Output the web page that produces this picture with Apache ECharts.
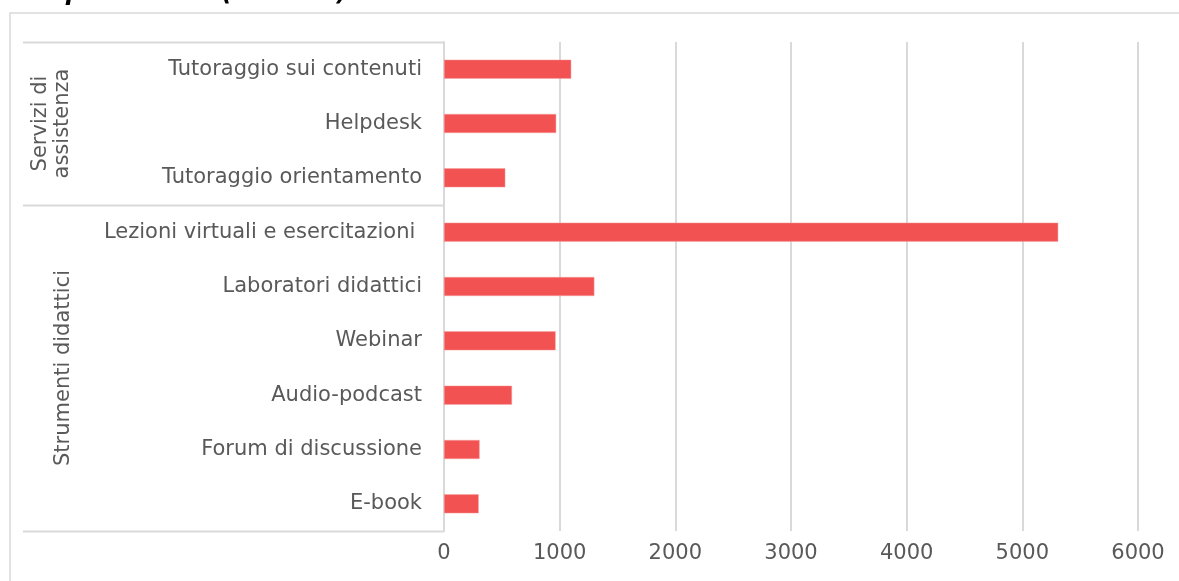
<!DOCTYPE html>
<html>
<head>
<meta charset="utf-8">
<script src="https://cdn.jsdelivr.net/npm/echarts@6/dist/echarts.min.js"></script>
<style>
html,body{margin:0;padding:0;background:#fff;}
#c{width:1179px;height:581px;}
</style>
</head>
<body>
<div id="c"></div>
<script>
const titleText = 'complementari (numero)';
const categories = ['Tutoraggio sui contenuti','Helpdesk','Tutoraggio orientamento','Lezioni virtuali e esercitazioni ','Laboratori didattici','Webinar','Audio-podcast','Forum di discussione','E-book'];
const values = [1100, 970, 530, 5310, 1300, 965, 588, 308, 300];
const groupNames = ['Servizi di\nassistenza', 'Strumenti didattici'];
const groupSizes = [3, 6];
const xTicks = [0, 1000, 2000, 3000, 4000, 5000, 6000];

const FONT = 'DejaVu Sans, Verdana, sans-serif';
const FS = 21;
const chart = echarts.init(document.getElementById('c'), null, {renderer:'canvas'});
const gridLeft = 444, gridTop = 42, gridRight = 1179 - 1138, gridBottom = 581 - 531;

chart.setOption({
  animation:false,
  backgroundColor:'#fff',
  grid:{left:gridLeft, top:gridTop, right:gridRight, bottom:gridBottom, containLabel:false},
  xAxis:{
    type:'value', min:xTicks[0], max:xTicks[xTicks.length-1], interval:1000,
    axisLine:{show:false}, axisTick:{show:false},
    splitLine:{show:true, lineStyle:{color:'#d9d9d9', width:2}},
    axisLabel:{color:'#595959', fontFamily:FONT, fontSize:FS, margin:12, formatter:v => String(v)}
  },
  yAxis:{
    type:'category', data:categories, inverse:true,
    axisLine:{show:true, lineStyle:{color:'#d9d9d9', width:2}},
    axisTick:{show:false},
    axisLabel:{color:'#595959', fontFamily:FONT, fontSize:FS, margin:22}
  },
  series:[{
    type:'bar', data:values, barWidth:'35%',
    itemStyle:{color:'#f25252', borderColor:'#f6a0a0', borderWidth:0.5}
  }]
});

const graphics = [];
graphics.push({type:'rect', shape:{x:10, y:13, width:1200, height:600}, style:{fill:'none', stroke:'#d9d9d9', lineWidth:1.5}, z:-1});
graphics.push({type:'text', x:10, y:6, style:{text:titleText, font:'italic bold 24px ' + FONT, fill:'#000', align:'left', verticalAlign:'bottom'}});
const step = (chart.convertToPixel({yAxisIndex:0}, categories[1]) - chart.convertToPixel({yAxisIndex:0}, categories[0]));
let idx = 0;
const bounds = [chart.convertToPixel({yAxisIndex:0}, categories[0]) - step/2];
groupSizes.forEach((n, gi) => {
  const y0 = chart.convertToPixel({yAxisIndex:0}, categories[idx]) - step/2;
  const y1 = chart.convertToPixel({yAxisIndex:0}, categories[idx+n-1]) + step/2;
  bounds.push(y1);
  const cy = (y0 + y1)/2;
  graphics.push({type:'text', x: gi===0 ? 52 : 64, y: cy, rotation: Math.PI/2,
    style:{text:groupNames[gi], font:FS + 'px ' + FONT, fill:'#595959', align:'center', verticalAlign:'middle', lineHeight:22}});
  idx += n;
});
bounds.forEach(y => {
  const yy = Math.round(y) + 0.5;
  graphics.push({type:'line', shape:{x1:23, y1:yy, x2:gridLeft, y2:yy}, style:{stroke:'#d9d9d9', lineWidth:2}});
});
chart.setOption({graphic:graphics});
</script>
</body>
</html>
